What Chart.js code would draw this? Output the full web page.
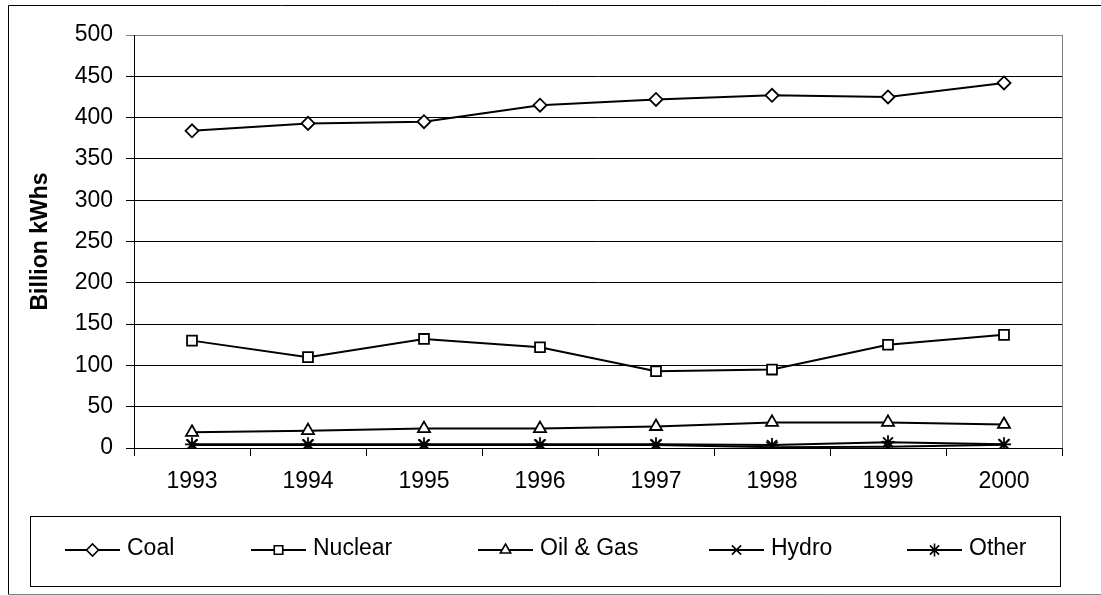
<!DOCTYPE html>
<html lang="en">
<head>
    <meta charset="UTF-8">
    <title>Electricity generation by source, 1993-2000</title>
    <script src="https://cdn.jsdelivr.net/npm/chart.js"></script>
    <style>
        html, body { margin: 0; padding: 0; background: #ffffff; }
        #grafico { display: block; }
    </style>
</head>
<body>
<canvas id="grafico" width="1101" height="596"></canvas>
<script>
// Datos
const years   = ['1993','1994','1995','1996','1997','1998','1999','2000'];
const coal    = [384, 393, 395, 415, 422, 427, 425, 442];
const nuclear = [130, 110, 132, 122, 93, 95, 125, 137];
const oilGas  = [19, 21, 23.5, 23.5, 26, 31, 31, 28.5];
const hydro   = [3.5, 3.5, 3.5, 3.5, 3.5, 1, 1.5, 4];
const other   = [4.5, 4.5, 4.5, 4.5, 4.5, 3.5, 7, 4.5];
const seriesNames = ['Coal', 'Nuclear', 'Oil & Gas', 'Hydro', 'Other'];

const fuente = "'Liberation Sans', Arial, sans-serif";

function serie(label, datos, estilo, radio) {
    return {
        label: label,
        data: datos,
        borderColor: '#000',
        borderWidth: 2,
        backgroundColor: '#fff',
        pointStyle: estilo,
        pointRadius: radio,
        pointBorderWidth: 1.8,
        pointBackgroundColor: '#fff',
        pointBorderColor: '#000',
        tension: 0
    };
}

// Marco exterior, borde del área y leyenda tipo Excel
const marcoYLeyenda = {
    id: 'marcoYLeyenda',
    afterDraw(chart) {
        const ctx = chart.ctx;
        const a = chart.chartArea;
        ctx.save();

        // marco exterior
        ctx.strokeStyle = '#000';
        ctx.lineWidth = 1;
        ctx.beginPath();
        ctx.moveTo(1101, 5.5); ctx.lineTo(8.5, 5.5); ctx.lineTo(8.5, 594.5);
        ctx.stroke();
        ctx.strokeStyle = '#808080';
        ctx.beginPath();
        ctx.moveTo(8.5, 594.5); ctx.lineTo(1101, 594.5);
        ctx.stroke();
        ctx.fillStyle = '#d9d9d9';
        ctx.fillRect(0, 595, 1101, 1);

        // borde derecho del área de trazado
        ctx.strokeStyle = '#808080';
        ctx.beginPath();
        ctx.moveTo(Math.round(a.right) + 0.5, a.top);
        ctx.lineTo(Math.round(a.right) + 0.5, a.bottom);
        ctx.stroke();

        // caja de leyenda
        ctx.strokeStyle = '#000';
        ctx.strokeRect(30.5, 516.5, 1030, 70);

        // elementos de leyenda
        const yLinea = 550;
        const inicios = [65, 251, 478, 709, 907];
        const radios = [6, 6, 6, 6.5, 6.5];
        ctx.font = '23px ' + fuente;
        ctx.textBaseline = 'middle';
        chart.data.datasets.forEach((ds, i) => {
            const x0 = inicios[i];
            ctx.strokeStyle = '#000';
            ctx.lineWidth = 2;
            ctx.beginPath();
            ctx.moveTo(x0, yLinea);
            ctx.lineTo(x0 + 55, yLinea);
            ctx.stroke();
            ctx.lineWidth = 1.6;
            ctx.fillStyle = '#fff';
            Chart.helpers.drawPoint(ctx, {
                pointStyle: ds.pointStyle,
                radius: radios[i],
                borderWidth: 1.6,
                rotation: 0
            }, x0 + 27.5, yLinea);
            ctx.fillStyle = '#000';
            ctx.fillText(ds.label, x0 + 62, yLinea - 1);
        });
        ctx.restore();
    }
};

new Chart(document.getElementById('grafico'), {
    type: 'line',
    data: {
        labels: years,
        datasets: [
            serie(seriesNames[0], coal, 'rectRot', 6.5),
            serie(seriesNames[1], nuclear, 'rect', 7),
            serie(seriesNames[2], oilGas, 'triangle', 7),
            serie(seriesNames[3], hydro, 'crossRot', 8),
            serie(seriesNames[4], other, 'star', 7)
        ]
    },
    options: {
        responsive: false,
        animation: false,
        layout: { padding: { top: 35, right: 39, bottom: 103, left: 0 } },
        plugins: {
            legend: { display: false },
            tooltip: { enabled: false }
        },
        scales: {
            x: {
                type: 'category',
                offset: true,
                grid: { offset: true, drawOnChartArea: false, tickLength: 8, color: '#000' },
                border: { color: '#000', width: 1 },
                ticks: { color: '#000', padding: 12, font: { family: fuente, size: 23 }, maxRotation: 0 },
                afterFit(scale) { scale.height = 45; }
            },
            y: {
                min: 0,
                max: 500,
                ticks: { stepSize: 50, color: '#000', padding: 13, font: { family: fuente, size: 23 } },
                grid: {
                    tickLength: 8,
                    color: (c) => (c.tick && c.tick.value === 500) ? '#808080' : '#000'
                },
                border: { color: '#000', width: 1 },
                title: {
                    display: true,
                    text: 'Billion kWhs',
                    color: '#000',
                    font: { family: fuente, size: 23, weight: 'bold' },
                    padding: { top: 27, bottom: 0 }
                },
                afterFit(scale) { scale.width = 134; }
            }
        }
    },
    plugins: [marcoYLeyenda]
});
</script>
</body>
</html>
